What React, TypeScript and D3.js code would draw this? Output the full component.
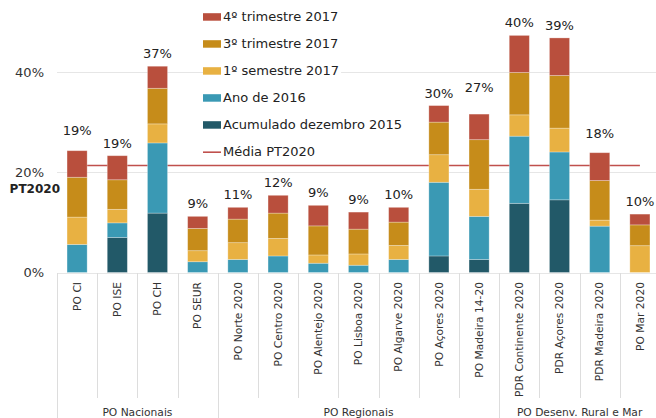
import * as d3 from 'd3';
import React, { FunctionComponent, useEffect, useRef } from 'react';

// categorias (programas operacionais)
const categories = [
  'PO CI', 'PO ISE', 'PO CH', 'PO SEUR',
  'PO Norte 2020', 'PO Centro 2020', 'PO Alentejo 2020', 'PO Lisboa 2020',
  'PO Algarve 2020', 'PO Açores 2020', 'PO Madeira 14-20',
  'PDR Continente 2020', 'PDR Açores 2020', 'PDR Madeira 2020', 'PO Mar 2020',
];

const groups = [
  { name: 'PO Nacionais', count: 4 },
  { name: 'PO Regionais', count: 7 },
  { name: 'PO Desenv. Rural e Mar', count: 4 },
];

// séries empilhadas (%)
const acumulado2015 = [0, 7.0, 11.85, 0, 0, 0, 0, 0, 0, 3.3, 2.6, 13.8, 14.5, 0, 0];
const ano2016 = [5.6, 2.9, 14.0, 2.15, 2.6, 3.3, 1.85, 1.45, 2.6, 14.7, 8.6, 13.4, 9.55, 9.25, 0];
const semestre1_2017 = [5.45, 2.7, 3.8, 2.2, 3.35, 3.5, 1.65, 2.25, 2.8, 5.5, 5.4, 4.25, 4.75, 1.2, 5.35];
const trimestre3_2017 = [7.95, 5.9, 7.1, 4.45, 4.7, 5.05, 5.8, 4.95, 4.65, 6.5, 9.9, 8.45, 10.5, 7.9, 4.15];
const trimestre4_2017 = [5.3, 4.8, 4.4, 2.4, 2.35, 3.55, 4.1, 3.4, 2.95, 3.3, 5.1, 7.4, 7.5, 5.55, 2.15];

// taxa indicada por cima de cada barra e nível (%) onde a etiqueta assenta
const labelValues = [19, 19, 37, 9, 11, 12, 9, 9, 10, 30, 27, 40, 39, 18, 10];
const labelLevels = [25.9, 23.3, 41.2, 11.2, 13.0, 15.4, 13.4, 12.05, 13.0, 33.3, 34.5, 47.3, 46.8, 25.2, 11.65];

const mediaPT2020 = 21.35;
const yTicks = [0, 20, 40];

const seriesNames = [
  'Acumulado dezembro 2015',
  'Ano de 2016',
  '1º semestre 2017',
  '3º trimestre 2017',
  '4º trimestre 2017',
];
const seriesColors = ['#225968', '#3a99b4', '#e8b142', '#c68c1a', '#b94f3d'];
const lineColor = '#c0504d';

const App: FunctionComponent = () => {
  const svgRef = useRef<SVGSVGElement>(null);

  useEffect(() => {
    const width = 656;
    const height = 418;
    const font = 'DejaVu Sans, Verdana, sans-serif';

    const svg = d3.select(svgRef.current).attr('width', width).attr('height', height);
    svg.selectAll('*').remove();

    const rows = categories.map((c, i) => ({
      cat: c,
      s0: acumulado2015[i],
      s1: ano2016[i],
      s2: semestre1_2017[i],
      s3: trimestre3_2017[i],
      s4: trimestre4_2017[i],
    }));
    const keys = ['s0', 's1', 's2', 's3', 's4'];
    const stacked = d3.stack<any>().keys(keys)(rows);

    const x = d3.scaleBand().domain(categories).range([57, 660]).paddingInner(0.5).paddingOuter(0.25);
    const xCell = d3.scaleBand().domain(categories).range([57, 660]).padding(0);
    const y = d3.scaleLinear().domain([0, 40]).range([272.5, 72]);

    // grelha
    svg
      .append('g')
      .selectAll('line')
      .data(yTicks)
      .join('line')
      .attr('x1', 57)
      .attr('x2', width)
      .attr('y1', (d) => Math.round(y(d)) + 0.5)
      .attr('y2', (d) => Math.round(y(d)) + 0.5)
      .attr('stroke', '#e6e6e6');

    svg
      .append('g')
      .selectAll('text')
      .data(yTicks)
      .join('text')
      .attr('x', 44)
      .attr('y', (d) => y(d))
      .attr('dy', '0.36em')
      .attr('text-anchor', 'end')
      .attr('font-family', font)
      .attr('font-size', 13)
      .attr('fill', '#333')
      .text((d) => `${d}%`);

    svg
      .append('text')
      .attr('x', 60)
      .attr('y', y(20) + 16)
      .attr('dy', '0.36em')
      .attr('text-anchor', 'end')
      .attr('font-family', font)
      .attr('font-weight', 'bold')
      .attr('font-size', 12)
      .attr('fill', '#222')
      .text('PT2020');

    // separadores das categorias
    const boundaries = categories.map((c) => xCell(c) as number).concat([660]);
    let acc = 0;
    const groupEdges = [0];
    groups.forEach((g) => {
      acc += g.count;
      groupEdges.push(acc);
    });
    svg
      .append('g')
      .selectAll('line')
      .data(boundaries)
      .join('line')
      .attr('x1', (d) => Math.round(d) + 0.5)
      .attr('x2', (d) => Math.round(d) + 0.5)
      .attr('y1', 273)
      .attr('y2', (d, i) => (groupEdges.includes(i) ? height : 398))
      .attr('stroke', '#dddddd');

    // linha média PT2020
    const line = d3
      .line<string>()
      .x((d) => (xCell(d) as number) + xCell.bandwidth() / 2)
      .y(() => y(mediaPT2020));
    svg
      .append('path')
      .datum(categories)
      .attr('d', line)
      .attr('fill', 'none')
      .attr('stroke', lineColor)
      .attr('stroke-width', 1.6);

    // barras
    svg
      .append('g')
      .selectAll('g')
      .data(stacked)
      .join('g')
      .attr('fill', (d, i) => seriesColors[i])
      .selectAll('rect')
      .data((d) => d)
      .join('rect')
      .attr('x', (d) => x(d.data.cat) as number)
      .attr('width', x.bandwidth())
      .attr('y', (d) => y(d[1]))
      .attr('height', (d) => Math.max(0, y(d[0]) - y(d[1])))
      .attr('stroke', '#ffffff')
      .attr('stroke-opacity', (d) => (d[1] - d[0] > 0 ? 0.35 : 0))
      .attr('stroke-width', 0.8);

    // etiquetas por cima das barras
    svg
      .append('g')
      .selectAll('text')
      .data(categories)
      .join('text')
      .attr('x', (d) => (xCell(d) as number) + xCell.bandwidth() / 2)
      .attr('y', (d, i) => y(labelLevels[i]) - 8)
      .attr('text-anchor', 'middle')
      .attr('font-family', font)
      .attr('font-size', 13)
      .attr('fill', '#222')
      .text((d, i) => `${labelValues[i]}%`);

    // rótulos das categorias
    svg
      .append('g')
      .selectAll('text')
      .data(categories)
      .join('text')
      .attr('transform', (d) => `translate(${(xCell(d) as number) + xCell.bandwidth() / 2}, 282) rotate(-90)`)
      .attr('dy', '0.35em')
      .attr('text-anchor', 'end')
      .attr('font-family', font)
      .attr('font-size', 10.7)
      .attr('fill', '#333')
      .text((d) => d);

    // rótulos dos grupos
    svg
      .append('g')
      .selectAll('text')
      .data(groups)
      .join('text')
      .attr('x', (d, i) => {
        const a = boundaries[groupEdges[i]];
        const b = boundaries[groupEdges[i + 1]];
        return (a + b) / 2;
      })
      .attr('y', 412)
      .attr('dy', '0.35em')
      .attr('text-anchor', 'middle')
      .attr('font-family', font)
      .attr('font-size', 10.7)
      .attr('fill', '#333')
      .text((d) => d.name);

    // legenda
    const legendItems = [
      { name: seriesNames[4], color: seriesColors[4], type: 'rect' },
      { name: seriesNames[3], color: seriesColors[3], type: 'rect' },
      { name: seriesNames[2], color: seriesColors[2], type: 'rect' },
      { name: seriesNames[1], color: seriesColors[1], type: 'rect' },
      { name: seriesNames[0], color: seriesColors[0], type: 'rect' },
      { name: 'Média PT2020', color: lineColor, type: 'line' },
    ];
    const legend = svg
      .append('g')
      .selectAll('g')
      .data(legendItems)
      .join('g')
      .attr('transform', (d, i) => `translate(203, ${16.7 + i * 27})`);

    legend
      .append('rect')
      .attr('x', 0)
      .attr('y', -8)
      .attr('width', 10)
      .attr('height', 16)
      .attr('fill', '#fff');

    legend.each(function (d) {
      const g = d3.select(this);
      const t = g
        .append('text')
        .attr('x', 20)
        .attr('dy', '0.36em')
        .attr('font-family', font)
        .attr('font-size', 13)
        .attr('fill', '#222')
        .text(d.name);
      const w = (t.node() as SVGTextElement).getComputedTextLength();
      g.select('rect').attr('width', 22 + w);
      t.raise();
      if (d.type === 'rect') {
        g.append('rect').attr('x', 0).attr('y', -3.5).attr('width', 18).attr('height', 7.5).attr('fill', d.color);
      } else {
        g.append('line').attr('x1', 0).attr('x2', 18).attr('y1', 0.5).attr('y2', 0.5).attr('stroke', d.color).attr('stroke-width', 1.6);
      }
    });
  }, []);

  return <svg ref={svgRef} style={{ position: 'absolute', left: 0, top: 0, background: '#fff' }} />;
};

export default App;
